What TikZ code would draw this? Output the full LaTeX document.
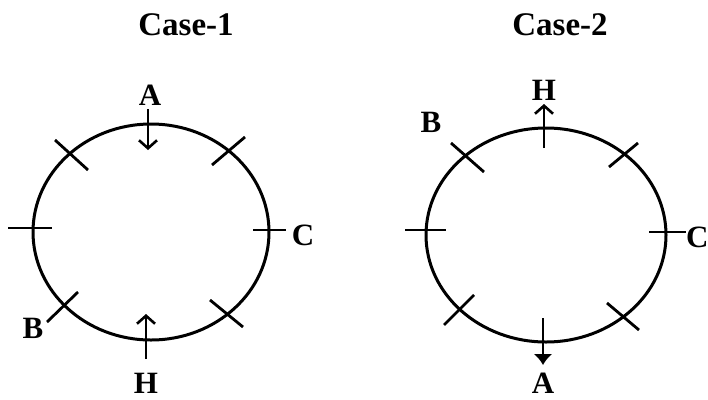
\documentclass[tikz,border=0pt]{standalone}
\usepackage{fontspec}
\setmainfont{Liberation Serif}
\usetikzlibrary{arrows.meta}
\begin{document}
\begin{tikzpicture}[x=1pt,y=-1pt,
  ring/.style={line width=3pt},
  tick/.style={line width=2.8pt},
  lab/.style={font=\bfseries\fontsize{31}{31}\selectfont, anchor=base, inner sep=0pt},
  ttl/.style={font=\bfseries\fontsize{33}{33}\selectfont, anchor=base, inner sep=0pt},
  openarr/.style={line width=2.6pt, -{Straight Barb[length=8pt,width=18pt,line width=2.6pt]}},
  boldarr/.style={line width=2.8pt, -{Latex[length=11pt,width=19pt]}}]
\useasboundingbox (0,0) rectangle (708,399);
% ---------- Case 1 ----------
\node[ttl] (t1) at (186,35) {Case-1};
\coordinate (c1) at (151,232);
\draw[ring] (c1) ellipse [x radius=118, y radius=108];
\draw[tick] (8,228) -- (52,228);
\draw[tick] (253,230) -- (286,230);
\draw[tick] (55,140) -- (88,170);
\draw[tick] (212,165) -- (245,137);
\draw[tick] (47,322) -- (78,292);
\draw[tick] (210,300) -- (243,327);
\node[lab] (A1) at (150,105) {A};
\node[lab] (H1) at (146,393) {H};
\node[lab] (C1) at (303,245) {C};
\node[lab] (B1) at (33,338) {B};
\coordinate (a1s) at (148,109);
\coordinate (a1e) at (148,150);
\draw[openarr] (a1s) -- (a1e);
\coordinate (h1s) at (146,359);
\coordinate (h1e) at (146,314);
\draw[openarr] (h1s) -- (h1e);
% ---------- Case 2 ----------
\node[ttl] (t2) at (560,35) {Case-2};
\coordinate (c2) at (546,235);
\draw[ring] (c2) ellipse [x radius=120, y radius=107];
\draw[tick] (405,230) -- (446,230);
\draw[tick] (649,232) -- (686,232);
\draw[tick] (451,143) -- (484,172);
\draw[tick] (609,167) -- (638,143);
\draw[tick] (444,325) -- (474,295);
\draw[tick] (607,303) -- (639,330);
\node[lab] (H2) at (544,100) {H};
\node[lab] (B2) at (431,132) {B};
\node[lab, anchor=base west] (C2) at (686,247) {C};
\node[lab] (A2) at (543,393) {A};
\coordinate (h2s) at (544,148);
\coordinate (h2e) at (544,104);
\draw[openarr] (h2s) -- (h2e);
\coordinate (a2s) at (543,318);
\coordinate (a2e) at (543,365);
\draw[boldarr] (a2s) -- (a2e);
\end{tikzpicture}
\end{document}
